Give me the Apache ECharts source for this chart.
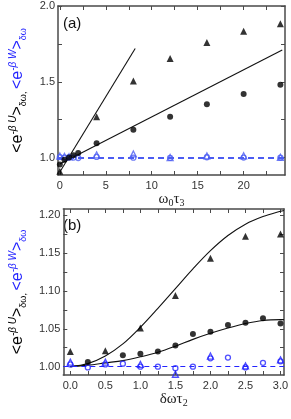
<!DOCTYPE html>
<html>
<head>
<meta charset="utf-8">
<script src="https://cdn.jsdelivr.net/npm/echarts@6/dist/echarts.min.js"></script>
<style>
html,body{margin:0;padding:0;background:#fff;}
#c{width:291px;height:419px;}
</style>
</head>
<body>
<div id="c"></div>
<script>
// ---------- Panel (a) data ----------
const aCircX = [0, 0.5, 1, 1.5, 2, 4, 8, 12, 16, 20, 24];
const aCircY = [0.955, 0.985, 1.0, 1.015, 1.03, 1.095, 1.183, 1.27, 1.351, 1.419, 1.481];
const aTriX = [0, 4, 8, 12, 16, 20, 24];
const aTriY = [0.91, 1.27, 1.505, 1.654, 1.76, 1.834, 1.883];
const aBlueCircX = [0, 0.5, 1, 1.5, 2, 4, 8, 12, 16, 20, 24];
const aBlueCircY = [1.003, 1.0, 1.002, 1.0, 0.997, 1.004, 0.999, 0.998, 1.002, 1.0, 1.0];
const aBlueTriX = [0, 0.5, 1, 4, 8, 12, 16, 20, 24];
const aBlueTriY = [1.01, 1.008, 1.005, 1.018, 1.024, 1.0, 1.011, 1.012, 1.002];
const aSteepX = [0, 8.2];
const aSteepY = [0.905, 1.72];
const aShallowX = [0, 24.2];
const aShallowY = [0.958, 1.709];
const aXTicks = [0, 2.5, 5, 7.5, 10, 12.5, 15, 17.5, 20, 22.5];
const aXLabels = [0, 5, 10, 15, 20];
const aYTicks = [1.0, 1.25, 1.5, 1.75, 2.0];
const aYLabels = [1.0, 1.5, 2.0];

// ---------- Panel (b) data ----------
const bTriX = [0, 0.5, 1.0, 1.5, 2.0, 2.5, 3.0];
const bTriY = [1.020, 1.021, 1.051, 1.094, 1.143, 1.172, 1.175];
const bCircX = [0.25, 0.75, 1.0, 1.25, 1.5, 1.75, 2.0, 2.25, 2.5, 2.75, 3.0];
const bCircY = [1.006, 1.015, 1.017, 1.020, 1.028, 1.043, 1.046, 1.055, 1.058, 1.064, 1.057];
const bBlueCircX = [0, 0.25, 0.5, 0.75, 1.0, 1.25, 1.5, 1.75, 2.0, 2.25, 2.5, 2.75, 3.0];
const bBlueCircY = [1.003, 0.999, 1.003, 1.004, 1.000, 1.000, 0.998, 1.000, 1.011, 1.012, 0.999, 1.005, 1.007];
const bBlueTriX = [0, 0.5, 1.0, 1.5, 2.0, 2.5, 3.0];
const bBlueTriY = [1.006, 1.006, 1.003, 0.990, 1.014, 1.001, 1.009];
const bCurveX = [0, 0.25, 0.5, 0.75, 1.0, 1.25, 1.5, 1.75, 2.0, 2.25, 2.5, 2.75, 3.0, 3.05];
const bUpperY = [1.000, 1.004, 1.014, 1.030, 1.052, 1.077, 1.103, 1.129, 1.153, 1.173, 1.188, 1.198, 1.205, 1.206];
const bLowerY = [1.000, 1.002, 1.005, 1.008, 1.013, 1.019, 1.027, 1.036, 1.044, 1.051, 1.057, 1.061, 1.062, 1.062];
const bXTicks = [0, 0.25, 0.5, 0.75, 1.0, 1.25, 1.5, 1.75, 2.0, 2.25, 2.5, 2.75, 3.0];
const bXLabels = [0, 0.5, 1.0, 1.5, 2.0, 2.5, 3.0];
const bYTicks = [1.0, 1.025, 1.05, 1.075, 1.1, 1.125, 1.15, 1.175, 1.2];
const bYLabels = [1.0, 1.05, 1.1, 1.15, 1.2];

const zip = (xs, ys) => xs.map((x, i) => [x, ys[i]]);

const FRAME = '#4a4a4a';
const LBL = '#333';
const BLUE_A = '#4b5cf2';
const BLUE_B = '#2424ff';

function xAx(grid, pos, min, max, ticks, labels, dec, show, name) {
  return {
    type: 'value', gridIndex: grid, position: pos, min: min, max: max,
    axisLine: {show: true, onZero: false, lineStyle: {color: FRAME, width: 1.5}},
    axisTick: {show: true, inside: true, length: 4, customValues: ticks, lineStyle: {color: FRAME, width: 1}},
    axisLabel: {show: show, customValues: labels, margin: 5, color: LBL, fontSize: 11,
      fontFamily: 'Liberation Sans', formatter: v => v.toFixed(dec)},
    splitLine: {show: false},
    name: name || '', nameLocation: 'middle', nameGap: 14,
    nameTextStyle: {fontFamily: 'Liberation Serif', color: '#222', fontSize: 15,
      rich: {m: {fontSize: 15, fontFamily: 'Liberation Serif', color: '#222'},
             s: {fontSize: 10, fontFamily: 'Liberation Serif', color: '#222', verticalAlign: 'bottom', padding: [8, 0, 0, 0]}}}
  };
}
const yRich = {
  k: {fontSize: 16, fontFamily: 'Liberation Sans', color: '#000', lineHeight: 20},
  ks: {fontSize: 10, fontFamily: 'Liberation Sans', fontStyle: 'italic', color: '#000', verticalAlign: 'top', lineHeight: 10},
  kb: {fontSize: 9, fontFamily: 'Liberation Sans', color: '#000', verticalAlign: 'bottom', lineHeight: 9},
  b: {fontSize: 16, fontFamily: 'Liberation Sans', color: BLUE_B, lineHeight: 20},
  bs: {fontSize: 10, fontFamily: 'Liberation Sans', fontStyle: 'italic', color: BLUE_B, verticalAlign: 'top', lineHeight: 10},
  bb: {fontSize: 9, fontFamily: 'Liberation Sans', color: BLUE_B, verticalAlign: 'bottom', lineHeight: 9}
};
const yName = '{k|<e}{ks|-β U}{k|>}{kb|δω, }{b|<e}{bs|-β W}{b|>}{bb|δω}';
function yAx(grid, pos, min, max, ticks, labels, dec, show) {
  return {
    type: 'value', gridIndex: grid, position: pos, min: min, max: max,
    axisLine: {show: true, onZero: false, lineStyle: {color: FRAME, width: 1.5}},
    axisTick: {show: true, inside: true, length: 4, customValues: ticks, lineStyle: {color: FRAME, width: 1}},
    axisLabel: {show: show, customValues: labels, margin: 3, color: LBL, fontSize: 11,
      fontFamily: 'Liberation Sans', formatter: v => v.toFixed(dec)},
    splitLine: {show: false},
    name: show ? yName : '', nameLocation: 'middle', nameRotate: 90, nameGap: 30,
    nameTextStyle: {rich: yRich}
  };
}

function scatter(xi, yi, xs, ys, symbol, size, color, hollow) {
  return {
    type: 'scatter', xAxisIndex: xi, yAxisIndex: yi, data: zip(xs, ys),
    symbol: symbol, symbolSize: size, silent: true, z: hollow ? 4 : 5,
    itemStyle: hollow ? {color: 'rgba(255,255,255,0)', borderColor: color, borderWidth: 1.3} : {color: color}
  };
}
function line(xi, yi, xs, ys, smooth) {
  return {
    type: 'line', xAxisIndex: xi, yAxisIndex: yi, data: zip(xs, ys), smooth: smooth ? 0.35 : false,
    showSymbol: false, silent: true, z: 3, lineStyle: {color: '#111', width: 1.1}
  };
}
function dashed(xi, yi, color, width, dash) {
  return {
    type: 'line', xAxisIndex: xi, yAxisIndex: yi, data: [], silent: true, z: 2,
    markLine: {silent: true, symbol: 'none', label: {show: false},
      lineStyle: {color: color, width: width, type: dash}, data: [{yAxis: 1}], animation: false}
  };
}

const chart = echarts.init(document.getElementById('c'), null, {renderer: 'canvas'});
chart.setOption({
  animation: false,
  backgroundColor: '#fff',
  grid: [
    {left: 54, top: 6, right: 6, bottom: 244},
    {left: 54, top: 209, right: 6, bottom: 44}
  ],
  xAxis: [
    xAx(0, 'bottom', -0.2, 24.5, aXTicks, aXLabels, 0, true, '{m|ω}{s|0}{m|τ}{s|3}'),
    xAx(0, 'top', -0.2, 24.5, aXTicks, aXLabels, 0, false),
    xAx(1, 'bottom', -0.1, 3.05, bXTicks, bXLabels, 1, true, '{m|δωτ}{s|2}'),
    xAx(1, 'top', -0.1, 3.05, bXTicks, bXLabels, 1, false)
  ],
  yAxis: [
    yAx(0, 'left', 0.885, 2.0, aYTicks, aYLabels, 1, true),
    yAx(0, 'right', 0.885, 2.0, aYTicks, aYLabels, 1, false),
    yAx(1, 'left', 0.989, 1.208, bYTicks, bYLabels, 2, true),
    yAx(1, 'right', 0.989, 1.208, bYTicks, bYLabels, 2, false)
  ],
  graphic: [
    {type: 'text', left: 63, top: 16, style: {text: '(a)', font: '15px "Liberation Sans"', fill: '#111'}},
    {type: 'text', left: 63, top: 218, style: {text: '(b)', font: '15px "Liberation Sans"', fill: '#111'}}
  ],
  series: [
    dashed(0, 0, BLUE_A, 1.8, [6, 4]),
    line(0, 0, aSteepX, aSteepY, false),
    line(0, 0, aShallowX, aShallowY, false),
    scatter(0, 0, aBlueCircX, aBlueCircY, 'circle', 5, BLUE_A, true),
    scatter(0, 0, aBlueTriX, aBlueTriY, 'triangle', 6, BLUE_A, true),
    scatter(0, 0, aCircX, aCircY, 'circle', 6, '#000', false),
    scatter(0, 0, aTriX, aTriY, 'triangle', 7, '#000', false),

    dashed(2, 2, BLUE_B, 1.2, [5, 4]),
    line(2, 2, bCurveX, bUpperY, true),
    line(2, 2, bCurveX, bLowerY, true),
    scatter(2, 2, bBlueCircX, bBlueCircY, 'circle', 5, BLUE_B, true),
    scatter(2, 2, bBlueTriX, bBlueTriY, 'triangle', 6, BLUE_B, true),
    scatter(2, 2, bCircX, bCircY, 'circle', 6, '#000', false),
    scatter(2, 2, bTriX, bTriY, 'triangle', 7, '#000', false)
  ]
});
</script>
</body>
</html>
